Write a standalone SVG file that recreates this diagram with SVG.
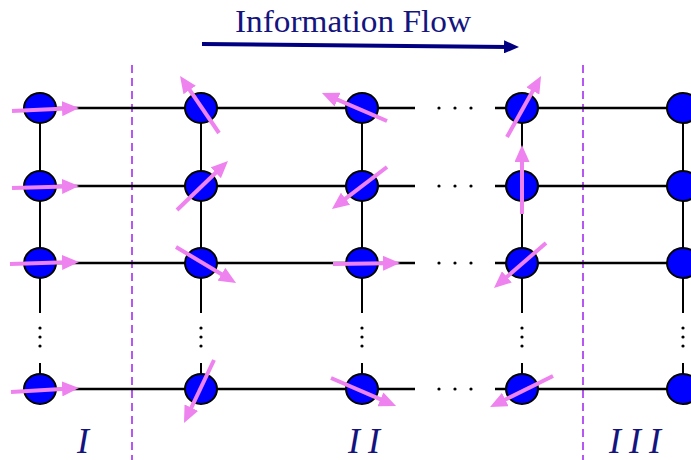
<svg xmlns="http://www.w3.org/2000/svg" width="691" height="460" viewBox="0 0 691 460">
  <style>
    .grid { stroke: #000; fill: none; }
    .h { stroke-width: 2.5; }
    .v { stroke-width: 2; }
    .dot { fill: #000; }
    .node { fill: #0000ff; stroke: #000; stroke-width: 2; }
    .spin { stroke: #ee82ee; stroke-width: 4; fill: none; marker-end: url(#spinHead); }
    .split { stroke: #a020f0; stroke-width: 1.5; stroke-dasharray: 8 5; fill: none; }
    .label { font-family: "Liberation Serif", "Times New Roman", serif; fill: #14147f; }
  </style>
  <defs>
    <marker id="spinHead" markerUnits="userSpaceOnUse" markerWidth="17" markerHeight="15" refX="4" refY="7.5" orient="auto">
      <path d="M0,0 L17,7.5 L0,15 z" fill="#ee82ee"/>
    </marker>
    <marker id="flowHead" markerUnits="userSpaceOnUse" markerWidth="15" markerHeight="13" refX="4" refY="6.5" orient="auto">
      <path d="M0,0 L15,6.5 L0,13 z" fill="#000080"/>
    </marker>
  </defs>
  <rect width="691" height="460" fill="#fff"/>

  <!-- title and flow direction -->
  <text class="label" x="353" y="32" font-size="32" text-anchor="middle" textLength="236" lengthAdjust="spacingAndGlyphs">Information Flow</text>
  <line x1="202" y1="44" x2="508" y2="46.9" stroke="#000080" stroke-width="4" marker-end="url(#flowHead)"/>

  <!-- region separators -->
  <g id="separators">
    <line class="split" x1="132" y1="65" x2="132" y2="460"/>
    <line class="split" x1="583" y1="65" x2="583" y2="460"/>
  </g>

  <!-- lattice bonds -->
  <g id="connectors" class="grid">
    <line class="h" x1="40" y1="108" x2="415" y2="108"/>
    <line class="h" x1="495" y1="108" x2="691" y2="108"/>
    <line class="h" x1="40" y1="186" x2="415" y2="186"/>
    <line class="h" x1="495" y1="186" x2="691" y2="186"/>
    <line class="h" x1="40" y1="263" x2="415" y2="263"/>
    <line class="h" x1="495" y1="263" x2="691" y2="263"/>
    <line class="h" x1="40" y1="389" x2="415" y2="389"/>
    <line class="h" x1="495" y1="389" x2="691" y2="389"/>

    <line class="v" x1="40" y1="108" x2="40" y2="313"/>
    <line class="v" x1="40" y1="363" x2="40" y2="389"/>
    <line class="v" x1="201" y1="108" x2="201" y2="313"/>
    <line class="v" x1="201" y1="363" x2="201" y2="389"/>
    <line class="v" x1="362" y1="108" x2="362" y2="313"/>
    <line class="v" x1="362" y1="363" x2="362" y2="389"/>
    <line class="v" x1="522" y1="108" x2="522" y2="313"/>
    <line class="v" x1="522" y1="363" x2="522" y2="389"/>
    <line class="v" x1="683" y1="108" x2="683" y2="313"/>
    <line class="v" x1="683" y1="363" x2="683" y2="389"/>
  </g>

  <!-- ellipsis dots -->
  <g id="ellipses" class="dot">
    <circle cx="439" cy="108" r="1.6"/><circle cx="455" cy="108" r="1.6"/><circle cx="471" cy="108" r="1.6"/>
    <circle cx="439" cy="186" r="1.6"/><circle cx="455" cy="186" r="1.6"/><circle cx="471" cy="186" r="1.6"/>
    <circle cx="439" cy="263" r="1.6"/><circle cx="455" cy="263" r="1.6"/><circle cx="471" cy="263" r="1.6"/>
    <circle cx="439" cy="389" r="1.6"/><circle cx="455" cy="389" r="1.6"/><circle cx="471" cy="389" r="1.6"/>
    <circle cx="40" cy="328" r="1.6"/><circle cx="40" cy="337" r="1.6"/><circle cx="40" cy="346" r="1.6"/>
    <circle cx="201" cy="328" r="1.6"/><circle cx="201" cy="337" r="1.6"/><circle cx="201" cy="346" r="1.6"/>
    <circle cx="362" cy="328" r="1.6"/><circle cx="362" cy="337" r="1.6"/><circle cx="362" cy="346" r="1.6"/>
    <circle cx="522" cy="328" r="1.6"/><circle cx="522" cy="337" r="1.6"/><circle cx="522" cy="346" r="1.6"/>
    <circle cx="683" cy="328" r="1.6"/><circle cx="683" cy="337" r="1.6"/><circle cx="683" cy="346" r="1.6"/>
  </g>

  <!-- sites -->
  <g id="col1">
    <ellipse class="node" cx="40" cy="108" rx="16" ry="15"/>
    <ellipse class="node" cx="40" cy="186" rx="16" ry="15"/>
    <ellipse class="node" cx="40" cy="263" rx="16" ry="15"/>
    <ellipse class="node" cx="40" cy="389" rx="16" ry="15"/>
  </g>
  <g id="col2">
    <ellipse class="node" cx="201" cy="108" rx="16" ry="15"/>
    <ellipse class="node" cx="201" cy="186" rx="16" ry="15"/>
    <ellipse class="node" cx="201" cy="263" rx="16" ry="15"/>
    <ellipse class="node" cx="201" cy="389" rx="16" ry="15"/>
  </g>
  <g id="col3">
    <ellipse class="node" cx="362" cy="108" rx="16" ry="15"/>
    <ellipse class="node" cx="362" cy="186" rx="16" ry="15"/>
    <ellipse class="node" cx="362" cy="263" rx="16" ry="15"/>
    <ellipse class="node" cx="362" cy="389" rx="16" ry="15"/>
  </g>
  <g id="col4">
    <ellipse class="node" cx="522" cy="108" rx="16" ry="15"/>
    <ellipse class="node" cx="522" cy="186" rx="16" ry="15"/>
    <ellipse class="node" cx="522" cy="263" rx="16" ry="15"/>
    <ellipse class="node" cx="522" cy="389" rx="16" ry="15"/>
  </g>
  <g id="col5">
    <ellipse class="node" cx="683" cy="108" rx="16" ry="15"/>
    <ellipse class="node" cx="683" cy="186" rx="16" ry="15"/>
    <ellipse class="node" cx="683" cy="263" rx="16" ry="15"/>
    <ellipse class="node" cx="683" cy="389" rx="16" ry="15"/>
  </g>

  <!-- spin orientations -->
  <g id="spins">
    <line class="spin" x1="12" y1="111" x2="66" y2="108.5"/>
    <line class="spin" x1="12" y1="188" x2="66" y2="186.4"/>
    <line class="spin" x1="10" y1="264" x2="66" y2="262.3"/>
    <line class="spin" x1="11" y1="392" x2="66" y2="388.7"/>

    <line class="spin" x1="219" y1="133" x2="187.4" y2="86.7"/>
    <line class="spin" x1="177" y1="210" x2="218.6" y2="170"/>
    <line class="spin" x1="176" y1="247" x2="224.9" y2="276.3"/>
    <line class="spin" x1="214" y1="360" x2="189.6" y2="411.3"/>

    <line class="spin" x1="387" y1="121" x2="333.9" y2="98.1"/>
    <line class="spin" x1="387" y1="167" x2="342.3" y2="201.1"/>
    <line class="spin" x1="333" y1="264" x2="387" y2="263.2"/>
    <line class="spin" x1="331" y1="378" x2="384.1" y2="400.9"/>

    <line class="spin" x1="507" y1="137" x2="534.7" y2="87.4"/>
    <line class="spin" x1="522" y1="214" x2="522" y2="158"/>
    <line class="spin" x1="546" y1="243" x2="503.8" y2="279.5"/>
    <line class="spin" x1="553" y1="376" x2="501.7" y2="401.3"/>
  </g>

  <!-- region labels -->
  <g id="regions" class="label" font-size="36" font-style="italic" text-anchor="middle">
    <text x="83" y="453">I</text>
    <text x="364" y="453" textLength="32" lengthAdjust="spacing">II</text>
    <text x="635" y="453" textLength="52" lengthAdjust="spacing">III</text>
  </g>
</svg>
